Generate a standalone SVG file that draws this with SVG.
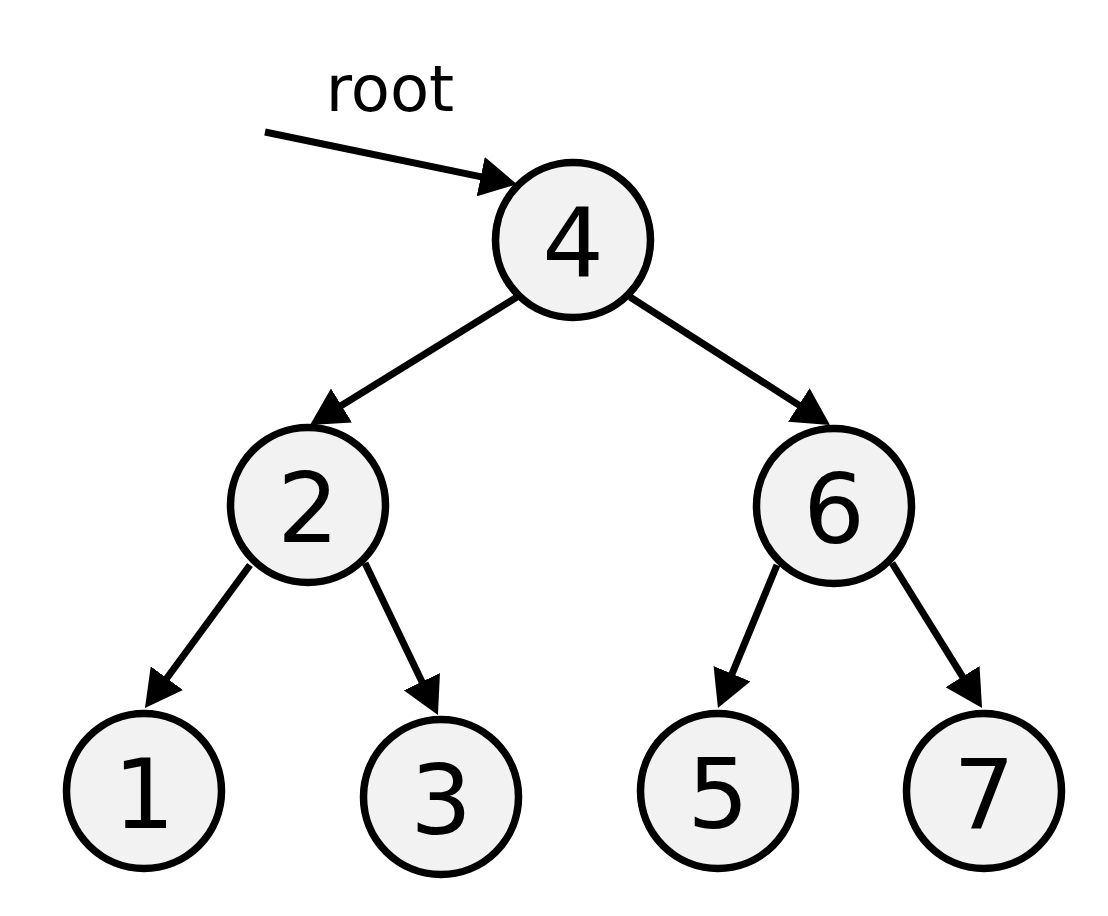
<svg xmlns="http://www.w3.org/2000/svg" width="1108" height="916" viewBox="0 0 1108 916">
<style>
.node circle{fill:#f2f2f2;stroke:#000;stroke-width:7.5}
.node text{font-family:"DejaVu Sans",sans-serif;font-size:97px;text-anchor:middle;fill:#000}
.edge{stroke:#000;stroke-width:7;fill:none;marker-end:url(#arr)}
.label{font-family:"DejaVu Sans",sans-serif;font-size:64px;text-anchor:middle;fill:#000}
</style>
<defs>
<marker id="arr" markerUnits="userSpaceOnUse" viewBox="0 0 37 40" markerWidth="37" markerHeight="40" refX="2" refY="20" orient="auto">
<path d="M0,0 L37,20 L0,40 z" fill="#000"/>
</marker>
</defs>
<rect width="1108" height="916" fill="#fff"/>
<text class="label" x="390" y="111">root</text>
<g id="n4" class="node"><circle cx="573" cy="240" r="77.5"/><text x="573" y="277">4</text></g>
<g id="n2" class="node"><circle cx="308" cy="505" r="77.5"/><text x="308" y="542">2</text></g>
<g id="n6" class="node"><circle cx="834" cy="506" r="77.5"/><text x="834" y="543">6</text></g>
<g id="n1" class="node"><circle cx="144" cy="791" r="77.5"/><text x="144" y="828">1</text></g>
<g id="n3" class="node"><circle cx="441" cy="797" r="77.5"/><text x="441" y="834">3</text></g>
<g id="n5" class="node"><circle cx="718" cy="791" r="77.5"/><text x="718" y="828">5</text></g>
<g id="n7" class="node"><circle cx="984" cy="791" r="77.5"/><text x="984" y="828">7</text></g>
<g id="connectors">
<line class="edge" x1="265" y1="132" x2="482.7" y2="177.1"/>
<line class="edge" x1="517" y1="297" x2="339.8" y2="406.6"/>
<line class="edge" x1="630" y1="297" x2="800.5" y2="406.1"/>
<line class="edge" x1="250" y1="565" x2="165.7" y2="679.8"/>
<line class="edge" x1="365" y1="563" x2="422.8" y2="683.5"/>
<line class="edge" x1="777" y1="565" x2="731.3" y2="675.6"/>
<line class="edge" x1="892" y1="563" x2="963.6" y2="678.3"/>
</g>
</svg>
